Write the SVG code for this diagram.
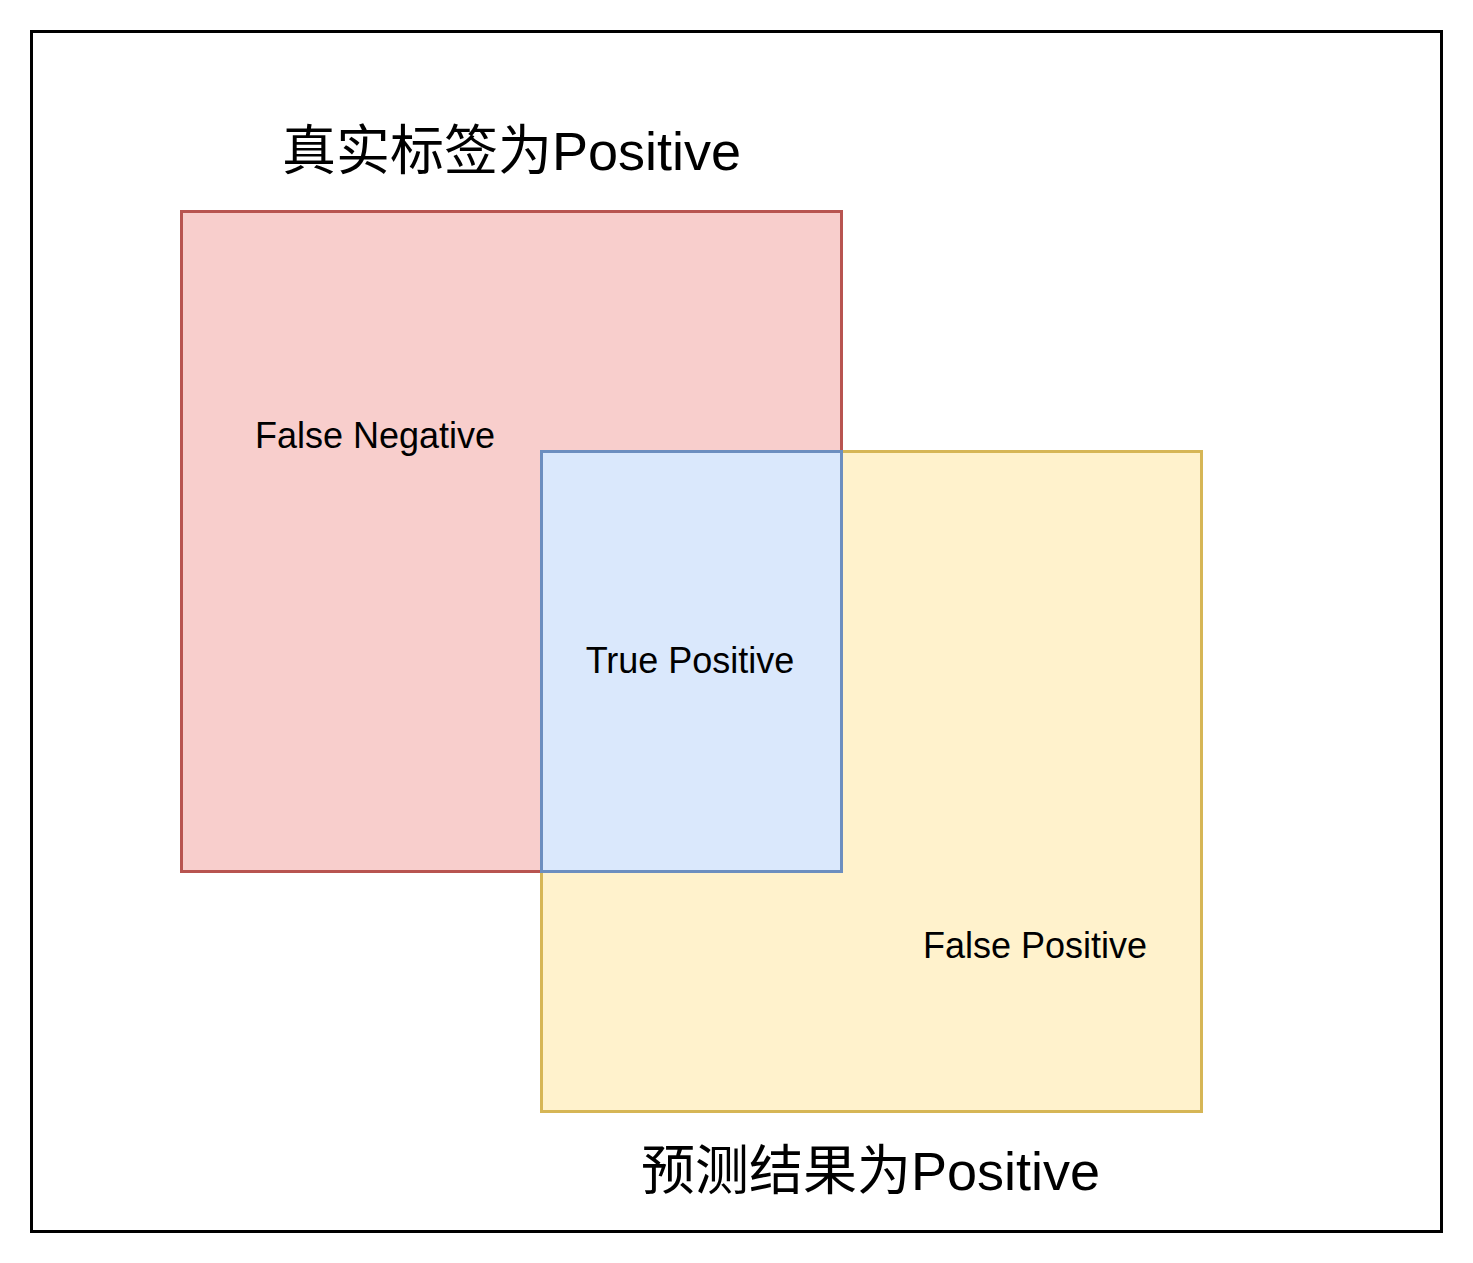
<svg xmlns="http://www.w3.org/2000/svg" width="1473" height="1263" viewBox="0 0 1473 1263">
<style>
.lbl{font-family:"Liberation Sans",Arial,sans-serif;font-size:36px;fill:#000}
.title{font-family:"Liberation Sans","Noto Sans CJK SC",sans-serif;font-size:54px;fill:#000}
</style>
<rect x="0" y="0" width="1473" height="1263" fill="#ffffff"/>
<g id="frame"><rect x="31.5" y="31.5" width="1410" height="1200" fill="#ffffff" stroke="#000000" stroke-width="3"/></g>
<g id="actual-positive"><rect x="181.5" y="211.5" width="660" height="660" fill="#f8cecc" stroke="#b85450" stroke-width="3"/></g>
<g id="predicted-positive"><rect x="541.5" y="451.5" width="660" height="660" fill="#fff2cc" stroke="#d6b656" stroke-width="3"/></g>
<g id="true-positive"><rect x="541.5" y="451.5" width="300" height="420" fill="#dae8fc" stroke="#6c8ebf" stroke-width="3"/></g>
<g id="connectors"></g>
<g id="labels">
<text class="title" x="511.5" y="170" text-anchor="middle">真实标签为Positive</text>
<text class="title" x="870.5" y="1190" text-anchor="middle">预测结果为Positive</text>
<text class="lbl" x="375" y="447.5" text-anchor="middle">False Negative</text>
<text class="lbl" x="690" y="672.5" text-anchor="middle">True Positive</text>
<text class="lbl" x="1035" y="957.5" text-anchor="middle">False Positive</text>
</g>
</svg>
